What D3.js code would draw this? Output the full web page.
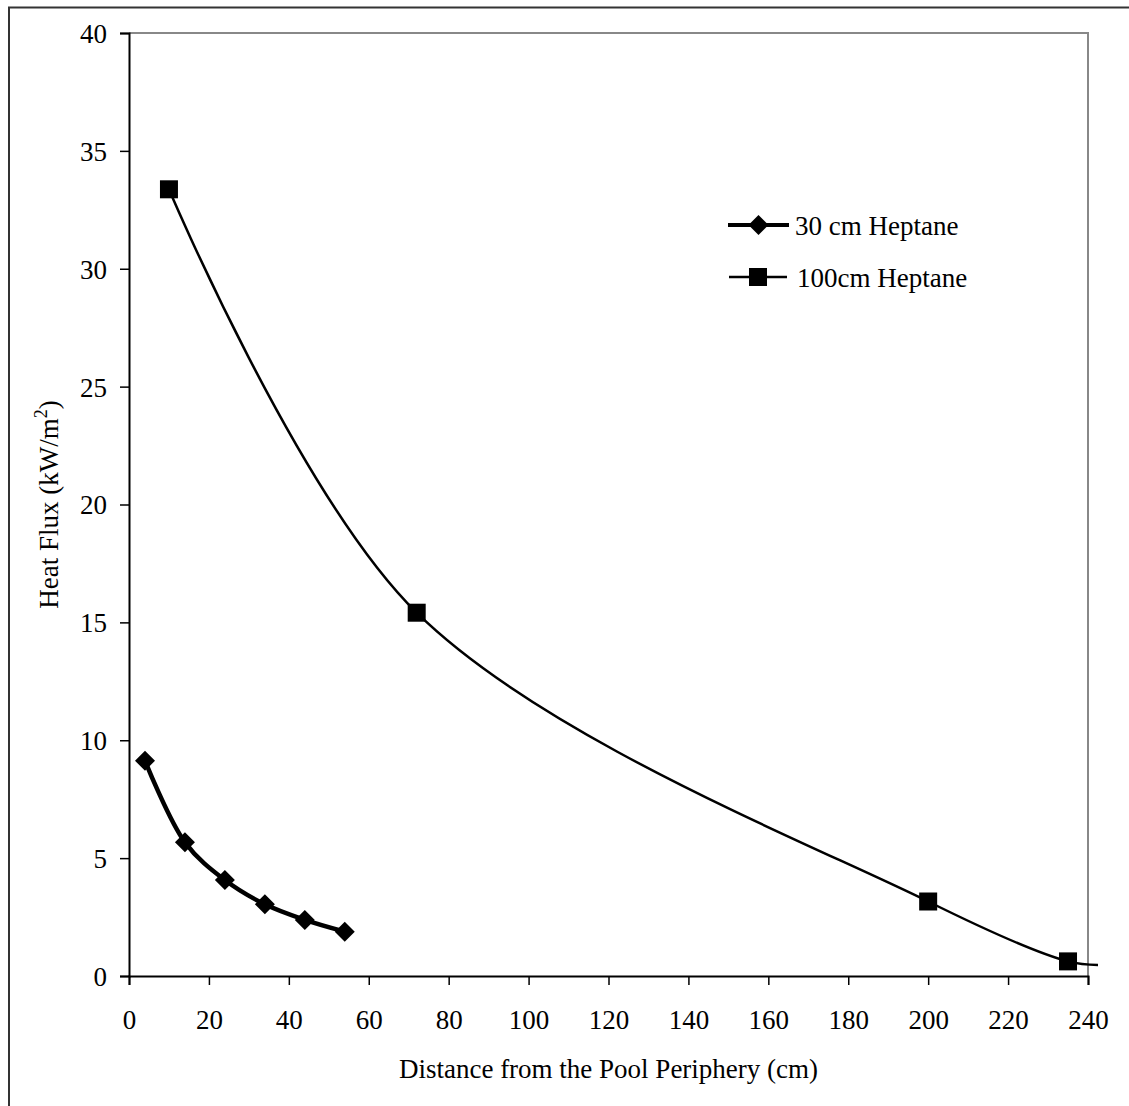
<!DOCTYPE html>
<html>
<head>
<meta charset="utf-8">
<script src="https://cdn.jsdelivr.net/npm/d3@7"></script>
<style>
  html, body { margin: 0; padding: 0; background: #fff; }
  svg { display: block; }
  text { font-family: "Liberation Serif", "Times New Roman", serif; fill: #000; }
</style>
</head>
<body>
<svg id="chart" width="1129" height="1106"></svg>
<script>
// Heat flux versus distance from the pool periphery
const xTicks = [0, 20, 40, 60, 80, 100, 120, 140, 160, 180, 200, 220, 240];
const yTicks = [0, 5, 10, 15, 20, 25, 30, 35, 40];

const small_x = [4, 14, 24, 34, 44, 54];
const small_y = [9.13, 5.67, 4.07, 3.04, 2.38, 1.88];

const large_x = [10, 72, 200, 235, 242.5];
const large_y = [33.37, 15.41, 3.16, 0.62, 0.47];

const seriesNames = ["30 cm Heptane", "100cm Heptane"];

const svg = d3.select("#chart");
const plotL = 129, plotR = 1088, plotT = 33, plotB = 976;

const x = d3.scaleLinear().domain([0, 240]).range([plotL, plotR]);
const y = d3.scaleLinear().domain([0, 40]).range([plotB, plotT]);

// outer frame
svg.append("rect")
  .attr("x", 9).attr("y", 7.5).attr("width", 1200).attr("height", 1200)
  .attr("fill", "none").attr("stroke", "#333").attr("stroke-width", 2);

// plot area border (top and right in grey)
svg.append("path")
  .attr("d", `M${plotL},${plotT}H${plotR}V${plotB}`)
  .attr("fill", "none").attr("stroke", "#888").attr("stroke-width", 2);

// axes
const fs = 27;
const xAxis = svg.append("g").attr("transform", `translate(0,${plotB})`)
  .call(d3.axisBottom(x).tickValues(xTicks).tickSize(9).tickPadding(0).tickFormat(d3.format("d")));
const yAxis = svg.append("g").attr("transform", `translate(${plotL},0)`)
  .call(d3.axisLeft(y).tickValues(yTicks).tickSize(9).tickPadding(0).tickFormat(d3.format("d")));

[xAxis, yAxis].forEach(g => {
  g.select(".domain").attr("stroke", "#000").attr("stroke-width", 2);
  g.selectAll(".tick line").attr("stroke", "#000").attr("stroke-width", 1.5);
  g.selectAll("text").attr("font-size", fs)
    .attr("font-family", "Liberation Serif, Times New Roman, serif").attr("fill", "#000");
});
xAxis.selectAll(".tick text").attr("y", 53).attr("dy", null);
yAxis.selectAll(".tick text").attr("x", -22).attr("dy", "0.35em");

// axis titles
svg.append("text")
  .attr("x", (plotL + plotR) / 2).attr("y", 1078)
  .attr("text-anchor", "middle").attr("font-size", fs)
  .text("Distance from the Pool Periphery (cm)");

const yt = svg.append("text")
  .attr("transform", `translate(58,${(plotT + plotB) / 2}) rotate(-90)`)
  .attr("text-anchor", "middle").attr("font-size", fs);
yt.append("tspan").text("Heat Flux (kW/m");
yt.append("tspan").attr("font-size", 18).attr("dy", -11).text("2");
yt.append("tspan").attr("dy", 11).text(")");

// smoothed lines through the measured points
const line = d3.line().x(d => x(d[0])).y(d => y(d[1])).curve(d3.curveCatmullRom.alpha(0.5));

const smallData = small_x.map((v, i) => [v, small_y[i]]);
const largeData = large_x.map((v, i) => [v, large_y[i]]);

// 100 cm pool
svg.append("path").datum(largeData)
  .attr("d", line).attr("fill", "none").attr("stroke", "#000").attr("stroke-width", 2.5);
svg.selectAll(".sq").data(largeData.filter(d => d[0] <= 240)).enter().append("rect")
  .attr("x", d => x(d[0]) - 9).attr("y", d => y(d[1]) - 9)
  .attr("width", 18).attr("height", 18).attr("fill", "#000");

// 30 cm pool
svg.append("path").datum(smallData)
  .attr("d", line).attr("fill", "none").attr("stroke", "#000").attr("stroke-width", 4.5)
  .attr("stroke-linejoin", "round");
const diamond = (cx, cy, r) => `M${cx},${cy - r}L${cx + r},${cy}L${cx},${cy + r}L${cx - r},${cy}Z`;
svg.selectAll(".dm").data(smallData).enter().append("path")
  .attr("d", d => diamond(x(d[0]), y(d[1]), 10)).attr("fill", "#000");

// legend
const lg = svg.append("g");
lg.append("line").attr("x1", 728).attr("x2", 789).attr("y1", 225).attr("y2", 225)
  .attr("stroke", "#000").attr("stroke-width", 4);
lg.append("path").attr("d", diamond(758.5, 225, 10)).attr("fill", "#000");
lg.append("text").attr("x", 795).attr("y", 235).attr("font-size", fs).text(seriesNames[0]);

lg.append("line").attr("x1", 729).attr("x2", 787).attr("y1", 277).attr("y2", 277)
  .attr("stroke", "#000").attr("stroke-width", 2.5);
lg.append("rect").attr("x", 749).attr("y", 268).attr("width", 18).attr("height", 18).attr("fill", "#000");
lg.append("text").attr("x", 797).attr("y", 287).attr("font-size", fs).text(seriesNames[1]);
</script>
</body>
</html>
